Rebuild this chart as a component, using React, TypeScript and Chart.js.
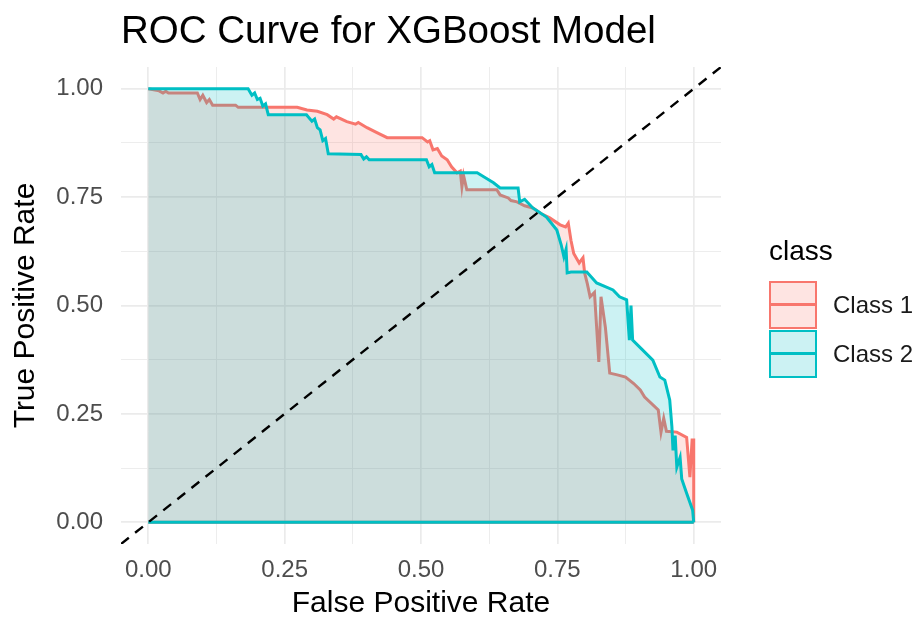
import React, { useEffect, useRef } from "react";
import { Chart, registerables } from "chart.js";

Chart.register(...registerables);

// ---------- data ----------
const seriesNames = ["Class 1", "Class 2"];

const class1FPR = [
  0, 0.02, 0.027, 0.032, 0.037, 0.09, 0.095, 0.1, 0.107, 0.112, 0.118, 0.16, 0.165, 0.273,
  0.291, 0.31, 0.328, 0.34, 0.345, 0.364, 0.38, 0.385, 0.401, 0.42, 0.438, 0.502, 0.512,
  0.516, 0.522, 0.53, 0.538, 0.548, 0.556, 0.566, 0.572, 0.575, 0.578, 0.584, 0.639, 0.645,
  0.66, 0.665, 0.676, 0.69, 0.705, 0.72, 0.736, 0.755, 0.765, 0.77, 0.775, 0.78, 0.79, 0.797,
  0.8, 0.805, 0.81, 0.818, 0.826, 0.83, 0.838, 0.846, 0.86, 0.875, 0.89, 0.902, 0.91, 0.935,
  0.94, 0.945, 0.95, 0.969, 0.987, 0.993, 0.997, 1.0, 1.0,
];
const class1TPR = [
  1, 0.995, 0.99, 0.994, 0.99, 0.99, 0.975, 0.985, 0.968, 0.975, 0.962, 0.962, 0.957, 0.957,
  0.951, 0.948, 0.94, 0.93, 0.935, 0.924, 0.918, 0.922, 0.91, 0.898, 0.887, 0.887, 0.877,
  0.88, 0.859, 0.862, 0.845, 0.836, 0.82, 0.806, 0.81, 0.774, 0.8, 0.767, 0.767, 0.755,
  0.748, 0.742, 0.739, 0.73, 0.725, 0.712, 0.702, 0.686, 0.681, 0.69, 0.65, 0.62, 0.598, 0.61,
  0.575, 0.55, 0.52, 0.53, 0.37, 0.52, 0.45, 0.344, 0.34, 0.335, 0.32, 0.305, 0.289, 0.259,
  0.208, 0.24, 0.21, 0.208, 0.196, 0.104, 0.19, 0.19, 0.0,
];

const class2FPR = [
  0, 0.183, 0.19, 0.195, 0.2, 0.205, 0.21, 0.215, 0.22, 0.29, 0.3, 0.305, 0.31, 0.315, 0.32,
  0.325, 0.33, 0.39, 0.395, 0.4, 0.405, 0.51, 0.515, 0.52, 0.525, 0.603, 0.615, 0.633, 0.645,
  0.678, 0.681, 0.69, 0.705, 0.73, 0.749, 0.757, 0.762, 0.766, 0.768, 0.775, 0.804, 0.822,
  0.852, 0.864, 0.877, 0.882, 0.885, 0.888, 0.901, 0.925, 0.938, 0.947, 0.956, 0.96, 0.962,
  0.966, 0.969, 0.975, 0.978, 0.987, 0.998, 1.0,
];
const class2TPR = [
  1, 1, 0.985, 0.99, 0.975, 0.978, 0.96, 0.965, 0.94, 0.94, 0.925, 0.93, 0.91, 0.905, 0.88,
  0.885, 0.85, 0.848, 0.838, 0.843, 0.836, 0.836, 0.82, 0.825, 0.806, 0.806, 0.797, 0.783,
  0.771, 0.771, 0.739, 0.745, 0.725, 0.704, 0.674, 0.64, 0.612, 0.63, 0.575, 0.577, 0.577,
  0.552, 0.536, 0.52, 0.513, 0.42, 0.5, 0.42, 0.404, 0.374, 0.335, 0.328, 0.282, 0.22, 0.166,
  0.2, 0.127, 0.15, 0.1, 0.067, 0.028, 0.0,
];

const baselineFPR = [0, 1];
const baselineTPR = [0, 0];

const refLineX = [-0.05, 1.05];
const refLineY = [-0.05, 1.05];

const axisRange = [-0.05, 1.05];
const gridValues = [0, 0.125, 0.25, 0.375, 0.5, 0.625, 0.75, 0.875, 1];
const majorValues = [0, 0.25, 0.5, 0.75, 1];
const tickLabels = ["0.00", "0.25", "0.50", "0.75", "1.00"];

// ---------- styles ----------
const RED = "#F8766D";
const TEAL = "#00BFC4";
const RED_FILL = "rgba(248,118,109,0.2)";
const TEAL_FILL = "rgba(0,191,196,0.2)";
const FONT = "'Liberation Sans', Arial, Helvetica, sans-serif";
const LINE_W = 3;

const toPoints = (xs: number[], ys: number[]) => xs.map((x, i) => ({ x, y: ys[i] }));

const labelFor = (v: number) => {
  const i = majorValues.findIndex((m) => Math.abs(m - v) < 1e-9);
  return i >= 0 ? tickLabels[i] : "";
};
const isMajor = (v: number) => majorValues.some((m) => Math.abs(m - v) < 1e-9);

const gridOpts = {
  drawTicks: false,
  color: "#EBEBEB",
  lineWidth: (ctx: any) => (ctx.tick && isMajor(ctx.tick.value) ? 1.7 : 0.9),
};

export default function App() {
  const ref = useRef<HTMLCanvasElement | null>(null);

  useEffect(() => {
    if (!ref.current) return;
    const chart = new Chart(ref.current, {
      type: "scatter",
      data: {
        datasets: [
          {
            label: "ref",
            data: toPoints(refLineX, refLineY),
            showLine: true,
            borderColor: "#000000",
            borderWidth: 2.4,
            borderDash: [10, 8],
            pointRadius: 0,
            fill: false,
            order: 0,
          },
          {
            label: seriesNames[1],
            data: toPoints(class2FPR, class2TPR),
            showLine: true,
            borderColor: TEAL,
            backgroundColor: TEAL_FILL,
            borderWidth: LINE_W,
            pointRadius: 0,
            fill: "origin",
            order: 1,
          },
          {
            label: seriesNames[1] + " base",
            data: toPoints(baselineFPR, baselineTPR),
            showLine: true,
            borderColor: TEAL,
            borderWidth: LINE_W,
            pointRadius: 0,
            fill: false,
            order: 2,
          },
          {
            label: seriesNames[0],
            data: toPoints(class1FPR, class1TPR),
            showLine: true,
            borderColor: RED,
            backgroundColor: RED_FILL,
            borderWidth: LINE_W,
            pointRadius: 0,
            fill: "origin",
            order: 3,
          },
          {
            label: seriesNames[0] + " base",
            data: toPoints(baselineFPR, baselineTPR),
            showLine: true,
            borderColor: RED,
            borderWidth: LINE_W,
            pointRadius: 0,
            fill: false,
            order: 4,
          },
        ],
      },
      options: {
        animation: false,
        responsive: false,
        maintainAspectRatio: false,
        layout: { padding: { left: 0, right: 199, top: 0, bottom: 0 } },
        plugins: {
          legend: { display: false },
          tooltip: { enabled: false },
          title: {
            display: true,
            text: "ROC Curve for XGBoost Model",
            align: "start",
            fullSize: false,
            color: "#000000",
            font: { family: FONT, size: 38.5, weight: "normal", lineHeight: 1.2 },
            padding: { top: 9, bottom: 11.8 },
          },
        },
        scales: {
          x: {
            type: "linear",
            min: axisRange[0],
            max: axisRange[1],
            border: { display: false },
            grid: gridOpts as any,
            afterBuildTicks: (scale: any) => {
              scale.ticks = gridValues.map((v) => ({ value: v }));
            },
            afterFit: (scale: any) => {
              scale.height = 76;
            },
            ticks: {
              autoSkip: false,
              maxRotation: 0,
              padding: 12,
              color: "#4D4D4D",
              font: { family: FONT, size: 24 },
              callback: (v: any) => labelFor(Number(v)),
            },
            title: {
              display: true,
              text: "False Positive Rate",
              color: "#000000",
              font: { family: FONT, size: 30, lineHeight: 1 },
              padding: { top: 0, bottom: 1 },
            },
          },
          y: {
            type: "linear",
            min: axisRange[0],
            max: axisRange[1],
            border: { display: false },
            grid: gridOpts as any,
            afterBuildTicks: (scale: any) => {
              scale.ticks = gridValues.map((v) => ({ value: v }));
            },
            afterFit: (scale: any) => {
              scale.width = 121;
            },
            ticks: {
              autoSkip: false,
              padding: 18,
              color: "#4D4D4D",
              font: { family: FONT, size: 24 },
              callback: (v: any) => labelFor(Number(v)),
            },
            title: {
              display: true,
              text: "True Positive Rate",
              color: "#000000",
              font: { family: FONT, size: 30, lineHeight: 1 },
              padding: { top: 11, bottom: 0 },
            },
          },
        },
      },
    } as any);
    return () => chart.destroy();
  }, []);

  const keyBox = (stroke: string, fill: string, top: number) => (
    <div
      style={{
        position: "absolute",
        left: 769,
        top,
        width: 48,
        height: 48,
        boxSizing: "border-box",
        border: `2px solid ${stroke}`,
        background: fill,
      }}
    >
      <div
        style={{
          position: "absolute",
          left: 0,
          right: 0,
          top: 20,
          height: 3,
          background: stroke,
        }}
      />
    </div>
  );

  const labelStyle = (top: number): React.CSSProperties => ({
    position: "absolute",
    left: 833,
    top,
    fontFamily: FONT,
    fontSize: 24,
    lineHeight: "30px",
    color: "#1A1A1A",
    whiteSpace: "nowrap",
  });

  return (
    <div style={{ position: "absolute", left: 0, top: 0, width: 920, height: 620, background: "#fff" }}>
      <canvas ref={ref} width={920} height={620} style={{ position: "absolute", left: 0, top: 0 }} />
      <div
        style={{
          position: "absolute",
          left: 769,
          top: 234,
          fontFamily: FONT,
          fontSize: 28,
          lineHeight: "34px",
          color: "#000",
        }}
      >
        class
      </div>
      {keyBox(RED, RED_FILL, 281)}
      {keyBox(TEAL, TEAL_FILL, 330)}
      <div style={labelStyle(290)}>{seriesNames[0]}</div>
      <div style={labelStyle(339)}>{seriesNames[1]}</div>
    </div>
  );
}
